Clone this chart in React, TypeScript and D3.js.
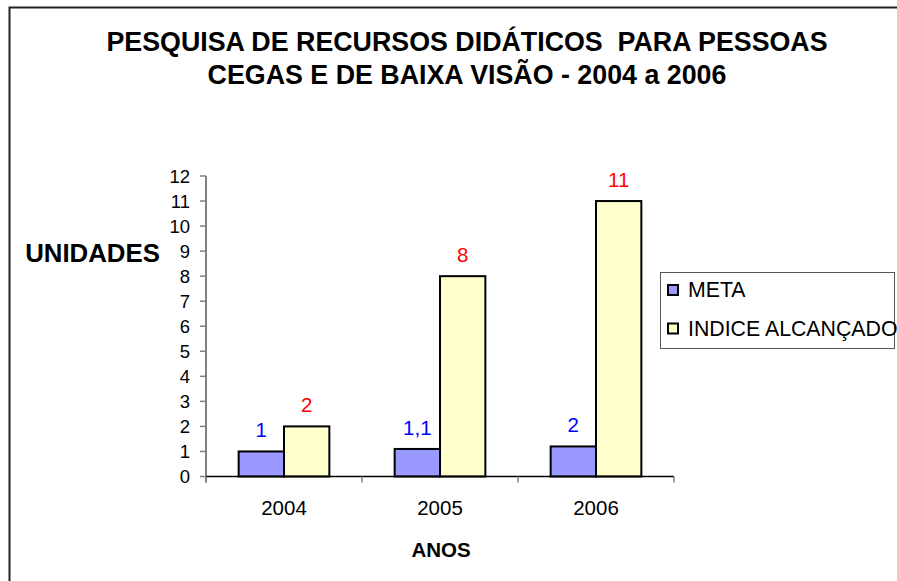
import React from 'react';
import * as d3 from 'd3';

const years = ['2004', '2005', '2006'];
const seriesNames = ['META', 'INDICE ALCANÇADO'];
const metaValues = [1, 1.1, 1.2];
const indiceValues = [2, 8, 11];
const metaLabels = ['1', '1,1', '2'];
const indiceLabels = ['2', '8', '11'];
const yTicks = [0, 1, 2, 3, 4, 5, 6, 7, 8, 9, 10, 11, 12];
const titleLines = ['PESQUISA DE RECURSOS DIDÁTICOS  PARA PESSOAS', 'CEGAS E DE BAIXA VISÃO - 2004 a 2006'];

const fills = ['#9999ff', '#ffffcc'];
const labelColors = ['#0000ff', '#ff0000'];
const font = '"Liberation Sans", Arial, sans-serif';

const App = () => {
  const width = 897;
  const height = 581;

  const x = d3.scaleBand().domain(years).range([206, 674]).padding(0);
  const inner = d3.scaleBand().domain(seriesNames).range([0, x.bandwidth()]).paddingInner(0).paddingOuter(0.72);
  const y = d3.scaleLinear().domain([0, 12]).range([476.5, 176]);

  const values = [metaValues, indiceValues];
  const labels = [metaLabels, indiceLabels];

  return (
    <svg width={width} height={height} style={{ position: 'absolute', left: 0, top: 0 }} fontFamily={font}>
      <rect x={0} y={0} width={width} height={height} fill="#fff" />
      {/* chart border, runs off the right and bottom */}
      <rect x={9.5} y={7.5} width={1000} height={1000} fill="none" stroke="#222" strokeWidth={2} />

      {titleLines.map((t, i) => (
        <text key={t} x={467} y={51 + i * 32.5} textAnchor="middle" fontSize={26.8} fontWeight="bold" style={{ whiteSpace: 'pre' }}>
          {t}
        </text>
      ))}

      {/* y axis */}
      <line x1={206} x2={206} y1={y(12)} y2={y(0) + 6} stroke="#808080" strokeWidth={2} />
      {yTicks.map(t => (
        <g key={t}>
          <line x1={200} x2={206} y1={y(t)} y2={y(t)} stroke="#808080" strokeWidth={1.5} />
          <text x={190} y={y(t) + 6.5} textAnchor="end" fontSize={18.5}>{t}</text>
        </g>
      ))}
      <text x={92.5} y={262} textAnchor="middle" fontSize={25.8} fontWeight="bold">UNIDADES</text>

      {/* bars */}
      {years.map((yr, i) => (
        <g key={yr}>
          {seriesNames.map((s, j) => {
            const bx = (x(yr) as number) + (inner(s) as number);
            const v = values[j][i];
            return (
              <g key={s}>
                <rect x={bx} y={y(v)} width={inner.bandwidth()} height={y(0) - y(v)} fill={fills[j]} stroke="#000" strokeWidth={2} />
                <text x={bx + inner.bandwidth() / 2} y={y(v) - 14} textAnchor="middle" fontSize={20.5} fill={labelColors[j]}>
                  {labels[j][i]}
                </text>
              </g>
            );
          })}
        </g>
      ))}

      {/* x axis */}
      <line x1={206} x2={674} y1={y(0)} y2={y(0)} stroke="#000" strokeWidth={1.5} />
      {[...years.map(yr => x(yr) as number), 674].map(px => (
        <line key={px} x1={px} x2={px} y1={y(0)} y2={y(0) + 6} stroke="#808080" strokeWidth={1.5} />
      ))}
      {years.map(yr => (
        <text key={yr} x={(x(yr) as number) + x.bandwidth() / 2} y={515} textAnchor="middle" fontSize={20.5}>{yr}</text>
      ))}
      <text x={441} y={557} textAnchor="middle" fontSize={20.5} fontWeight="bold">ANOS</text>

      {/* legend */}
      <rect x={660.5} y={272.5} width={234} height={76} fill="#fff" stroke="#555" strokeWidth={1} />
      {seriesNames.map((s, j) => (
        <g key={s} transform={`translate(0, ${j * 38.5})`}>
          <rect x={668} y={285} width={10} height={10} fill={fills[j]} stroke="#000" strokeWidth={2} />
          <text x={688} y={297} fontSize={21.3}>{s}</text>
        </g>
      ))}
    </svg>
  );
};

export default App;
